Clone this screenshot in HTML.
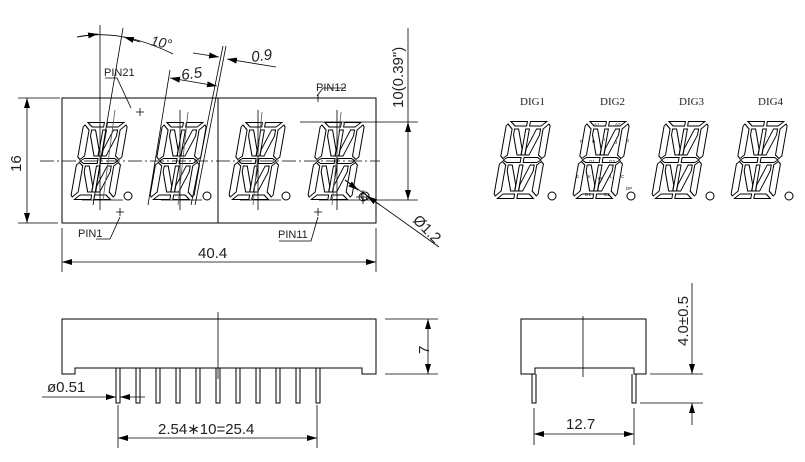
<!DOCTYPE html>
<html><head><meta charset="utf-8"><style>
html,body{margin:0;padding:0;background:#fff;}
svg{display:block;}
text{font-family:"Liberation Sans",sans-serif;fill:#222;}
</style></head><body>
<svg width="805" height="462" viewBox="0 0 805 462" xmlns="http://www.w3.org/2000/svg">
<defs>
<marker id="ar" viewBox="0 0 10 6" refX="10" refY="3" markerWidth="10" markerHeight="6" orient="auto-start-reverse" markerUnits="userSpaceOnUse"><path d="M0,0 L10,3 L0,6 z" fill="#000"/></marker>
<g id="dg" fill="none" stroke="#000" stroke-width="1">
<g transform="skewX(-10) translate(14,0)">
<polygon points="4,0.5 20.5,0.5 20.5,5 9,5"/>
<polygon points="23.5,0.5 40,0.5 35,5 23.5,5"/>
<polygon points="1.5,3 6.5,8 6.5,34 2.5,37.5 0,35 0,5"/>
<polygon points="42.5,3 37.5,8 37.5,34 41.5,37.5 44,35 44,5"/>
<polygon points="3,39 7,36.5 20.5,36.5 20.5,41.5 7,41.5"/>
<polygon points="41,39 37,36.5 23.5,36.5 23.5,41.5 37,41.5"/>
<polygon points="9,8 13,8 20,28 20,34 16,34 9,14"/>
<polygon points="20.2,8 23.8,8 23.8,34 20.2,34"/>
<polygon points="35,8 31,8 24,28 24,34 28,34 35,14"/>
<polygon points="2.5,40.5 6.5,44 6.5,70 1.5,75 0,73 0,43"/>
<polygon points="41.5,40.5 37.5,44 37.5,70 42.5,75 44,73 44,43"/>
<polygon points="9,44 13,44 20,64 20,70 16,70 9,50"/>
<polygon points="20.2,44 23.8,44 23.8,70 20.2,70"/>
<polygon points="35,44 31,44 24,64 24,70 28,70 35,50"/>
<polygon points="4,77.5 20.5,77.5 20.5,73 9,73"/>
<polygon points="23.5,77.5 40,77.5 35,73 23.5,73"/>
</g>
</g>
</defs>

<!-- FRONT VIEW -->
<g fill="none" stroke="#000" stroke-width="1">
<rect x="62" y="98" width="314" height="125"/>
<line x1="218" y1="98" x2="218" y2="223"/>
</g>
<use href="#dg" x="70" y="122"/>
<use href="#dg" x="149" y="122"/>
<use href="#dg" x="228" y="122"/>
<use href="#dg" x="307" y="122"/>
<g fill="none" stroke="#000" stroke-width="1">
<circle cx="128" cy="196" r="4"/><circle cx="207" cy="196" r="4"/><circle cx="286" cy="196" r="4"/><circle cx="365" cy="196" r="4"/>
</g>
<g stroke="#000" stroke-width="0.8" fill="none">
<line x1="40" y1="161" x2="380" y2="161" stroke-dasharray="14,3,2,3"/>
<line x1="100" y1="25" x2="100" y2="210"/><line x1="180" y1="110" x2="180" y2="210"/><line x1="258" y1="110" x2="258" y2="210"/><line x1="337" y1="110" x2="337" y2="210"/>
<line x1="82" y1="200" x2="123" y2="200"/><line x1="161" y1="200" x2="202" y2="200"/><line x1="240" y1="200" x2="281" y2="200"/><line x1="319" y1="200" x2="360" y2="200"/>
<line x1="123" y1="28" x2="93" y2="205"/>
<line x1="170" y1="70" x2="148" y2="205"/>
<line x1="226" y1="46" x2="195" y2="205"/>
<line x1="223" y1="46" x2="191" y2="205"/>
<line x1="115" y1="110" x2="103" y2="200" stroke="#555"/>
<line x1="262" y1="112" x2="253" y2="205" stroke="#555"/>
<line x1="341" y1="112" x2="332" y2="205" stroke="#555"/>
<line x1="188" y1="112" x2="178" y2="205" stroke="#555"/>
<path d="M136,112h8M140,108v8 M314,98h8M318,94v8 M116,212h8M120,208v8 M314,212h8M318,208v8"/>
<circle cx="363" cy="197" r="4"/><path d="M356,197h14M363,190v14"/>
<path d="M105,78h12l14,30"/>
<path d="M317,96l6,-8h23"/>
<path d="M96,239h14l10,-22"/>
<path d="M279,241h32l7,-24"/>
<path d="M18,98h42M18,223h40"/>
<line x1="27" y1="98" x2="27" y2="223" marker-start="url(#ar)" marker-end="url(#ar)"/>
<path d="M300,122h118M362,200h56"/>
<line x1="408" y1="28" x2="408" y2="122"/>
<line x1="408" y1="122" x2="408" y2="200" marker-start="url(#ar)" marker-end="url(#ar)"/>
<path d="M62,228v44M376,228v44"/>
<line x1="62" y1="262" x2="376" y2="262" marker-start="url(#ar)" marker-end="url(#ar)"/>
<line x1="345" y1="180" x2="439" y2="247"/>
<line x1="345" y1="180" x2="358" y2="190" marker-end="url(#ar)"/>
<line x1="380" y1="205" x2="367" y2="196" marker-end="url(#ar)"/>
<path d="M77,37 Q120,28 173,54"/>
<line x1="77" y1="37" x2="98" y2="34" marker-end="url(#ar)"/>
<line x1="140" y1="42" x2="124" y2="37" marker-end="url(#ar)"/>
<line x1="170" y1="78" x2="217" y2="86" marker-start="url(#ar)" marker-end="url(#ar)"/>
<line x1="193" y1="53" x2="219" y2="57" marker-end="url(#ar)"/>
<line x1="276" y1="67" x2="227" y2="59" marker-end="url(#ar)"/>
</g>
<g font-size="12">
<text x="104" y="76" font-size="11">PIN21</text>
<text x="316" y="91" font-size="11">PIN12</text>
<text x="78" y="237" font-size="11">PIN1</text>
<text x="278" y="238" font-size="11">PIN11</text>
<text x="198" y="258" font-size="15">40.4</text>
<text transform="translate(21,172) rotate(-90)" font-size="15">16</text>
<text transform="translate(403,108) rotate(-90)" font-size="15">10(0.39")</text>
<text transform="translate(412,221) rotate(45)" font-size="15">Ø1.2</text>
<text transform="translate(150,45) rotate(12)" font-size="14" font-style="italic">10°</text>
<text transform="translate(182,80) rotate(-8)" font-size="15" font-style="italic">6.5</text>
<text transform="translate(252,62) rotate(-8)" font-size="15" font-style="italic">0.9</text>
</g>

<!-- SEGMENT DIAGRAMS -->
<use href="#dg" x="493" y="121"/>
<use href="#dg" x="572" y="121"/>
<use href="#dg" x="651" y="121"/>
<use href="#dg" x="730" y="121"/>
<g fill="none" stroke="#000" stroke-width="1">
<circle cx="552" cy="196" r="4"/><circle cx="631" cy="196" r="4"/><circle cx="710" cy="196" r="4"/><circle cx="789" cy="196" r="4"/>
</g>
<g font-size="11">
<text x="520" y="105" style="font-family:'Liberation Serif',serif">DIG1</text>
<text x="600" y="105" style="font-family:'Liberation Serif',serif">DIG2</text>
<text x="679" y="105" style="font-family:'Liberation Serif',serif">DIG3</text>
<text x="758" y="105" style="font-family:'Liberation Serif',serif">DIG4</text>
</g>
<g font-size="4.5">
<text x="594" y="126">A1</text><text x="615" y="126">A2</text>
<text x="580" y="143">F</text><text x="592" y="143">H</text><text x="604" y="141">I</text><text x="615" y="144">J</text><text x="626" y="142">B</text>
<text x="589" y="163">G1</text><text x="609" y="163">G2</text>
<text x="576" y="178">E</text><text x="588" y="178">K</text><text x="598" y="180">M</text><text x="610" y="178">L</text><text x="621" y="178">C</text>
<text x="585" y="196">D1</text><text x="604" y="196">D2</text><text x="626" y="190">DP</text>
</g>

<!-- BOTTOM VIEW -->
<g fill="none" stroke="#000" stroke-width="1">
<path d="M62,319H376V374H362V368H75V374H62Z"/>
<path d="M116,368v35h4v-35 M136,368v35h4v-35 M156,368v35h4v-35 M176,368v35h4v-35 M196,368v35h4v-35 M216,368v35h4v-35 M236,368v35h4v-35 M256,368v35h4v-35 M276,368v35h4v-35 M296,368v35h4v-35 M316,368v35h4v-35"/>
<line x1="218" y1="312" x2="218" y2="379" stroke-width="0.8"/>
<path d="M385,319h53M385,374h53" stroke-width="0.8"/>
<line x1="428" y1="319" x2="428" y2="374" marker-start="url(#ar)" marker-end="url(#ar)" stroke-width="0.8"/>
<line x1="42" y1="397" x2="116" y2="397" marker-end="url(#ar)" stroke-width="0.8"/>
<line x1="145" y1="397" x2="120" y2="397" marker-end="url(#ar)" stroke-width="0.8"/>
<path d="M118,405v43M317,405v43" stroke-width="0.8"/>
<line x1="118" y1="438" x2="317" y2="438" marker-start="url(#ar)" marker-end="url(#ar)" stroke-width="0.8"/>
</g>
<text x="47" y="392" font-size="15">ø0.51</text>
<text x="158" y="434" font-size="15">2.54∗10=25.4</text>
<text transform="translate(429,354) rotate(-90)" font-size="15">7</text>

<!-- SIDE VIEW -->
<g fill="none" stroke="#000" stroke-width="1">
<path d="M521,319H646V374H634V368H535V374H521Z"/>
<path d="M532,374v29h4v-29 M632,374v29h4v-29"/>
<line x1="583" y1="316" x2="583" y2="377" stroke-width="0.8"/>
<path d="M650,374h53M640,403h63" stroke-width="0.8"/>
<line x1="692" y1="283" x2="692" y2="374" marker-end="url(#ar)" stroke-width="0.8"/>
<line x1="692" y1="425" x2="692" y2="403" marker-end="url(#ar)" stroke-width="0.8"/>
<path d="M534,408v37M634,408v37" stroke-width="0.8"/>
<line x1="534" y1="434" x2="634" y2="434" marker-start="url(#ar)" marker-end="url(#ar)" stroke-width="0.8"/>
</g>
<text x="566" y="429" font-size="15">12.7</text>
<text transform="translate(688,346) rotate(-90)" font-size="15">4.0±0.5</text>
</svg>
</body></html>
